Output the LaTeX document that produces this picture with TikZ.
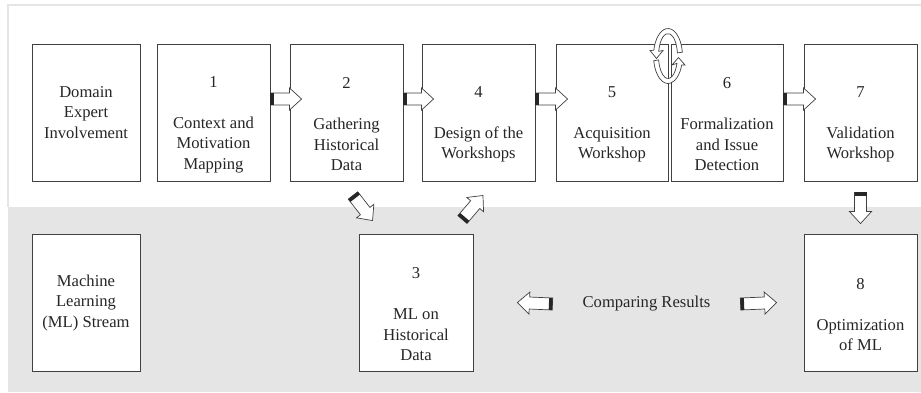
\documentclass[tikz,border=0pt]{standalone}
\usepackage{fontspec}
\setmainfont{Liberation Serif}
\usepackage{tikz}
\usetikzlibrary{decorations.markings}
\tikzset{
    box/.style={draw=black!75, line width=0.9pt, fill=white, minimum height=137pt, align=center, inner sep=0pt, text=black!85},
    blockarrow/.style={postaction={decorate, decoration={markings,
        mark=at position 0 with {
            \filldraw[draw=black!75, fill=white, line width=0.7pt] (0pt,-6pt) -- (\pgfdecoratedpathlength-12pt,-6pt) -- (\pgfdecoratedpathlength-12pt,-11pt) -- (\pgfdecoratedpathlength,0pt) -- (\pgfdecoratedpathlength-12pt,11pt) -- (\pgfdecoratedpathlength-12pt,6pt) -- (0pt,6pt) -- cycle;
            \fill[black!85] (0pt,-6pt) rectangle (3.5pt,6pt);
        }}}},
    cycarrow/.style={draw=black!75, fill=white, line width=0.7pt},
}

\begin{document}
\begin{tikzpicture}[x=1pt, y=1pt, font=\fontsize{16.6}{20.5}\selectfont]
            \useasboundingbox (0,0) rectangle (921,-392);
            \fill[black!10] (8,-207) rectangle (921,-392);
            \draw[black!10, line width=1.5pt] (8,-207) -- (8,-5) -- (921,-5);
            \node[box, minimum width=108pt] (dom) at (86,-112.5) {Domain\\Expert\\Involvement};
            \node[box, minimum width=113pt] (b1) at (213.5,-112.5) {\strut\\1\\\strut\\Context and\\Motivation\\Mapping};
            \node[box, minimum width=113pt] (b2) at (346.5,-112.5) {\strut\\2\\\strut\\Gathering\\Historical\\Data};
            \node[box, minimum width=113pt] (b4) at (478.5,-112.5) {\strut\\4\\\strut\\Design of the\\Workshops};
            \node[box, minimum width=112pt] (b5) at (612,-112.5) {\strut\\5\\\strut\\Acquisition\\Workshop};
            \node[box, minimum width=112pt] (b6) at (727,-112.5) {\strut\\6\\\strut\\Formalization\\and Issue\\Detection};
            \node[box, minimum width=113pt] (b7) at (860.5,-112.5) {\strut\\7\\\strut\\Validation\\Workshop};
            \node[box, minimum width=108pt] (ml) at (86,-302.5) {Machine\\Learning\\(ML) Stream};
            \node[box, minimum width=114pt] (b3) at (416,-302.5) {\strut\\3\\\strut\\ML on\\Historical\\Data};
            \node[box, minimum width=113pt] (b8) at (860.5,-302.5) {\strut\\8\\\strut\\Optimization\\of ML};
            \node[inner sep=0pt, text=black!85] (cmp) at (646.5,-304) {Comparing Results};
            \path[blockarrow] ([yshift=13.5pt]b1.east) -- ([xshift=12pt,yshift=13.5pt]b2.west);
            \path[blockarrow] ([yshift=13.5pt]b2.east) -- ([xshift=12pt,yshift=13.5pt]b4.west);
            \path[blockarrow] ([yshift=13.5pt]b4.east) -- ([xshift=12pt,yshift=13.5pt]b5.west);
            \path[blockarrow] ([yshift=13.5pt]b6.east) -- ([xshift=12pt,yshift=13.5pt]b7.west);
            \path[blockarrow] ([yshift=-11pt]b7.south) -- ([yshift=10pt]b8.north);
            \path[blockarrow] ([xshift=6.5pt,yshift=-14pt]b2.south) -- ([xshift=14pt,yshift=13pt]b3.north west);
            \path[blockarrow] ([xshift=-11pt,yshift=14pt]b3.north east) -- ([xshift=4.5pt,yshift=-14pt]b4.south);
            \path[blockarrow] ([xshift=-30pt]cmp.west) -- ([xshift=44pt]b3.east);
            \path[blockarrow] ([xshift=30pt]cmp.east) -- ([xshift=-27pt]b8.west);
            \begin{scope}[shift={(668,-56)}]
                \filldraw[cycarrow] (190:14.5pt and 27.5pt) arc[start angle=190, end angle=341, x radius=14.5pt, y radius=27.5pt] -- (17,-9) -- (10.5,-1.5) -- (4,-9) -- (341:9.5pt and 22.5pt) arc[start angle=341, end angle=190, x radius=9.5pt, y radius=22.5pt] -- cycle;
                \filldraw[cycarrow] (8:14.5pt and 27.5pt) arc[start angle=8, end angle=168, x radius=14.5pt, y radius=27.5pt] -- (-18,5.5) -- (-11.5,-2.5) -- (-5,5.5) -- (168:9.5pt and 22.5pt) arc[start angle=168, end angle=8, x radius=9.5pt, y radius=22.5pt] -- cycle;
            \end{scope}
        \end{tikzpicture}
\end{document}
